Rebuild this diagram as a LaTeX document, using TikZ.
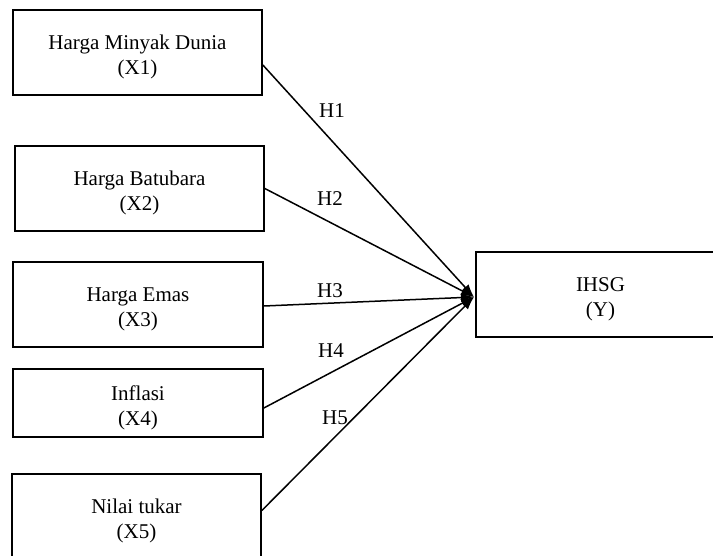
\documentclass[tikz,border=0pt]{standalone}
\usepackage{fontspec}
\setmainfont{Liberation Serif}
\usetikzlibrary{arrows.meta}
\newcommand{\vstrut}{\rule{0pt}{24pt}}

\begin{document}
\begin{tikzpicture}[x=1pt,y=-1pt,
  var/.style={draw,line width=1.7pt,align=center,inner sep=2pt,
    minimum width=249pt,minimum height=85pt,font=\fontsize{21}{25}\selectfont},
  hyp/.style={font=\fontsize{21}{24}\selectfont,inner sep=1pt},
  link/.style={line width=1.5pt,-{Latex[length=13pt,width=9pt]}}]
\useasboundingbox (0,0) rectangle (713,555);
% variables
\node[var] (x1) at (137.5,52.5) {\vstrut Harga Minyak Dunia\\(X1)};
\node[var] (x2) at (139.5,188.5) {\vstrut Harga Batubara\\(X2)};
\node[var,minimum width=250pt] (x3) at (138,304.5) {\vstrut Harga Emas\\(X3)};
\node[var,minimum width=250pt,minimum height=68pt] (x4) at (138,403) {\vstrut Inflasi\\(X4)};
\node[var] (x5) at (136.5,516.5) {\vstrut Nilai tukar\\(X5)};
\node[var] (y) at (600.5,294.5) {\vstrut IHSG\\(Y)};
\coordinate (hub) at (474,297);
% paths
\draw[link] ([yshift=-12.5pt]x1.east) -- (hub);
\draw[link] (x2.east) -- (hub);
\draw[link] ([yshift=-1.5pt]x3.east) -- (hub);
\draw[link] ([yshift=-5pt]x4.east) -- (hub);
\draw[link] ([yshift=6pt]x5.east) -- (hub);
% hypotheses
\node[hyp] (h1) at (332,111) {H1};
\node[hyp] (h2) at (330,199) {H2};
\node[hyp] (h3) at (330,291) {H3};
\node[hyp] (h4) at (331,351) {H4};
\node[hyp] (h5) at (335,418) {H5};
\end{tikzpicture}
\end{document}
